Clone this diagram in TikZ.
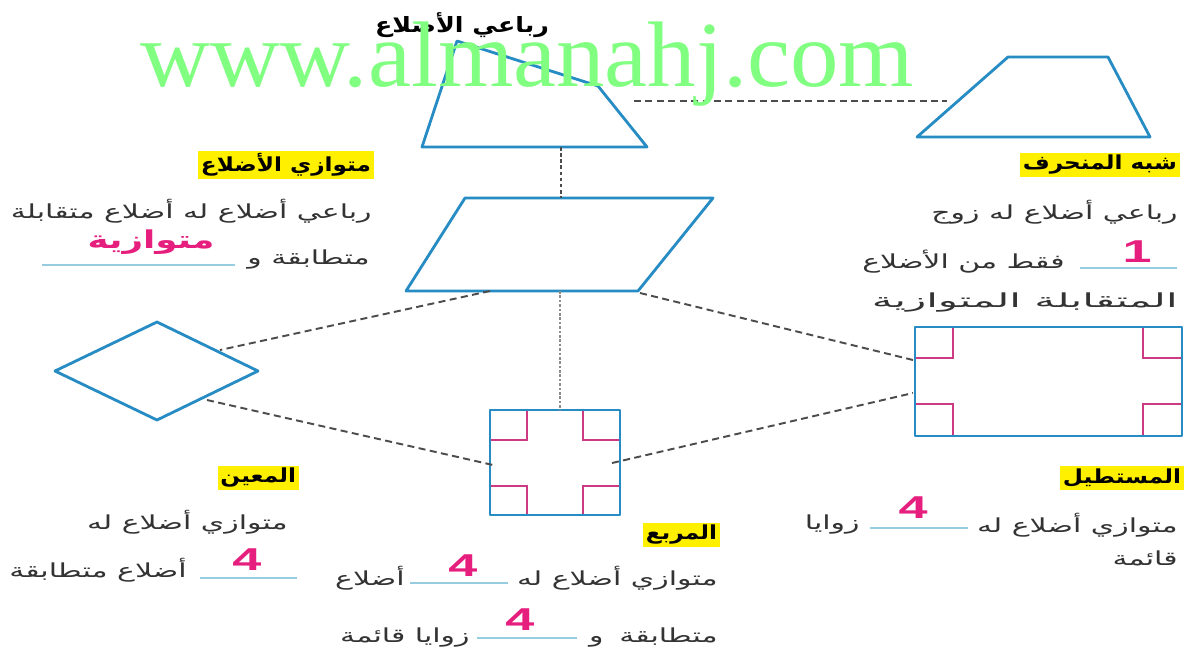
\documentclass[tikz,border=0pt]{standalone}
\usepackage{fontspec}
\usepackage{graphicx}
\usepackage{xcolor}
\usepackage{tikz}
\usetikzlibrary{positioning}
\TeXXeTstate=1
\newfontfamily\arabicfont[Script=Arabic, FakeStretch=1.55]{DejaVu Sans}
\newfontfamily\arabicbold[Script=Arabic, FakeStretch=1.2]{DejaVu Sans Bold}
\newfontfamily\answerfont[Script=Arabic, FakeStretch=1.45]{DejaVu Sans Bold}
\newfontfamily\digitfont[FakeStretch=1.65]{Liberation Sans Bold}
\newfontfamily\markfont[FakeStretch=1.04]{Liberation Serif}
\definecolor{shapeblue}{RGB}{38,140,195}
\definecolor{markpink}{RGB}{205,60,130}
\definecolor{anspink}{RGB}{230,30,125}
\definecolor{hlyellow}{RGB}{255,240,0}
\definecolor{blankblue}{RGB}{150,205,225}
\definecolor{markgreen}{RGB}{128,255,128}
\newcommand{\rl}[1]{\beginR #1\endR}

\begin{document}
\begin{tikzpicture}[
  x=0.02cm, y=-0.02cm,
  figline/.style={draw=shapeblue, line width=1.6pt, line join=round},
  angmark/.style={draw=markpink, line width=1.2pt},
  link/.style={draw=black!70, line width=1.1pt, dash pattern=on 4pt off 2.5pt},
  vlink/.style={draw=black!45, line width=1pt, dash pattern=on 1.5pt off 1pt},
  title/.style={fill=hlyellow, anchor=east, inner sep=1.5pt, font=\arabicbold\fontsize{11}{13}\selectfont},
  body/.style={anchor=east, inner sep=0pt, text=black!80, font=\arabicfont\fontsize{11}{13}\selectfont},
  answer/.style={inner sep=0pt, text=anspink, font=\digitfont\fontsize{18}{20}\selectfont},
  blank/.style={draw=blankblue, line width=0.8pt}
]
  \useasboundingbox[fill=white] (0,0) rectangle (1196,657);

  % Shapes
  \coordinate (q1) at (457,41);  \coordinate (q2) at (598,86);
  \coordinate (q3) at (647,147); \coordinate (q4) at (422,147);
  \draw[figline] (q1) -- (q2) -- (q3) -- (q4) -- cycle;

  \coordinate (t1) at (1008,57); \coordinate (t2) at (1108,57);
  \coordinate (t3) at (1150,137); \coordinate (t4) at (917,137);
  \draw[figline] (t1) -- (t2) -- (t3) -- (t4) -- cycle;

  \coordinate (p1) at (465,198); \coordinate (p2) at (713,198);
  \coordinate (p3) at (638,291); \coordinate (p4) at (406,291);
  \draw[figline] (p1) -- (p2) -- (p3) -- (p4) -- cycle;

  \coordinate (r1) at (55,371);  \coordinate (r2) at (157,322);
  \coordinate (r3) at (258,371); \coordinate (r4) at (157,420);
  \draw[figline] (r1) -- (r2) -- (r3) -- (r4) -- cycle;

  \draw[angmark] (527,410) |- (490,440);
  \draw[angmark] (583,410) |- (620,440);
  \draw[angmark] (527,515) |- (490,486);
  \draw[angmark] (583,515) |- (620,486);
  \draw[figline] (490,410) rectangle (620,515);

  \draw[angmark] (953,327) |- (915,358);
  \draw[angmark] (1143,327) |- (1182,358);
  \draw[angmark] (953,436) |- (915,404);
  \draw[angmark] (1143,436) |- (1182,404);
  \draw[figline] (915,327) rectangle (1182,436);

  % Connectors
  \coordinate (quadE) at (634,101);  \coordinate (trapW) at (947,101);
  \coordinate (quadS) at (561,147);  \coordinate (parN) at (561,198);
  \coordinate (parS) at (560,291);   \coordinate (sqN) at (560,410);
  \coordinate (parSW) at (490,291);  \coordinate (rhoNE) at (220,350);
  \coordinate (parSE) at (640,293);  \coordinate (rectNW) at (913,360);
  \coordinate (rhoSE) at (207,400);  \coordinate (sqW) at (493,465);
  \coordinate (sqE) at (612,463);    \coordinate (rectSW) at (913,393);
  \draw[link] (quadE) -- (trapW);
  \draw[link, dash pattern=on 2pt off 1.5pt] (quadS) -- (parN);
  \draw[vlink] (parS) -- (sqN);
  \draw[link] (parSW) -- (rhoNE);
  \draw[link] (parSE) -- (rectNW);
  \draw[link] (rhoSE) -- (sqW);
  \draw[link] (sqE) -- (rectSW);

  % Quadrilateral
  \node[font=\arabicbold\fontsize{12}{14}\selectfont, inner sep=0pt] (quadtitle) at (462,25) {\rl{رباعي الأضلاع}};

  % Parallelogram
  \node[title] (partitle) at (374,165) {\rl{متوازي الأضلاع}};
  \node[body] (parline1) at (372,211) {\rl{رباعي أضلاع له أضلاع متقابلة}};
  \node[body] (parline2) at (370,260) {\rl{متطابقة و}};
  \draw[blank] (42,265) -- (235,265);
  \node[inner sep=0pt, text=anspink, font=\answerfont\fontsize{14}{16}\selectfont] (parans) at (151,242) {\rl{متوازية}};

  % Trapezoid
  \node[title] (traptitle) at (1180,165) {\rl{شبه المنحرف}};
  \node[body] (trapline1) at (1178,212) {\rl{رباعي أضلاع له زوج}};
  \draw[blank] (1080,268) -- (1177,268);
  \node[answer] (trapans) at (1137,252) {1};
  \node[body] (trapline2) at (1065,262) {\rl{فقط من الأضلاع}};
  \node[body] (trapline3) at (1178,303) {\scalebox{1.4}[1]{\rl{المتقابلة المتوازية}}};

  % Rhombus
  \node[title] (rhotitle) at (299,478) {\rl{المعين}};
  \node[body] (rholine1) at (288,522) {\rl{متوازي أضلاع له}};
  \draw[blank] (200,578) -- (297,578);
  \node[answer] (rhoans) at (247,560) {4};
  \node[body] (rholine2) at (187,570) {\rl{أضلاع متطابقة}};

  % Square
  \node[title] (sqtitle) at (720,535) {\rl{المربع}};
  \node[body] (sqline1) at (718,578) {\rl{متوازي أضلاع له}};
  \draw[blank] (410,583) -- (508,583);
  \node[answer] (sqans1) at (463,566) {4};
  \node[body] (sqline1b) at (405,578) {\rl{أضلاع}};
  \node[body] (sqline2) at (718,637) {\rl{متطابقة\hspace{9pt}و}};
  \draw[blank] (477,638) -- (577,638);
  \node[answer] (sqans2) at (520,620) {4};
  \node[body] (sqline2b) at (470,637) {\rl{زوايا قائمة}};

  % Rectangle
  \node[title] (recttitle) at (1184,478) {\rl{المستطيل}};
  \node[body] (rectline1) at (1178,525) {\rl{متوازي أضلاع له}};
  \draw[blank] (870,528) -- (968,528);
  \node[answer] (rectans) at (913,508) {4};
  \node[body] (rectline1b) at (860,525) {\rl{زوايا}};
  \node[body] (rectline2) at (1178,558) {\rl{قائمة}};

  % Watermark
  \node[anchor=base west, inner sep=0pt, text=markgreen, font=\markfont\fontsize{53}{53}\selectfont] (wmark) at (140,86) {www.almanahj.com};
\end{tikzpicture}
\end{document}
